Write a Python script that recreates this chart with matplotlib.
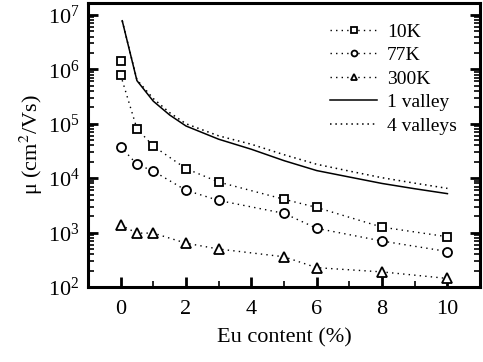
import matplotlib
matplotlib.use('Agg')
import matplotlib.pyplot as plt
from matplotlib.ticker import LogLocator, MultipleLocator, NullFormatter

plt.rcParams['font.family'] = ['Liberation Serif', 'DejaVu Serif']
plt.rcParams['mathtext.fontset'] = 'stix'

# measured mobilities (cm^2/Vs) vs Eu content (%)
eu = [0, 0.5, 1, 2, 3, 5, 6, 8, 10]
mu_10k = [7.9e5, 8.1e4, 3.9e4, 1.5e4, 8.5e3, 4.1e3, 2.9e3, 1.26e3, 8.4e2]
mu_10k_extra_x = [0]
mu_10k_extra = [1.43e6]
mu_77k = [3.8e4, 1.8e4, 1.35e4, 6.0e3, 3.9e3, 2.26e3, 1.2e3, 7.0e2, 4.5e2]
mu_300k = [1.38e3, 9.8e2, 9.8e2, 6.4e2, 5.0e2, 3.6e2, 2.27e2, 1.9e2, 1.44e2]

# calculated curves
calc_x = [0.05, 0.5, 1, 1.5, 2, 3, 4, 5, 6, 7, 8, 9, 10]
one_valley = [7.8e6, 6.2e5, 2.6e5, 1.45e5, 9.1e4, 5.2e4, 3.4e4, 2.1e4, 1.38e4, 1.05e4, 8.0e3, 6.4e3, 5.2e3]
four_valleys = [7.8e6, 6.4e5, 2.9e5, 1.6e5, 1.0e5, 6.0e4, 4.2e4, 2.7e4, 1.8e4, 1.35e4, 1.02e4, 8.1e3, 6.5e3]

fig = plt.figure(figsize=(4.83, 3.62), dpi=100)
ax = fig.add_axes([0.182, 0.207, 0.812, 0.785])

dots = (0, (1, 3))
mk = dict(mfc='white', mec='black', mew=1.3, color='black', lw=1)

ax.plot(eu, mu_10k, marker='s', ms=6, linestyle=dots, label='10K', **mk)
ax.plot(mu_10k_extra_x, mu_10k_extra, marker='s', ms=6, linestyle='none', **mk)
ax.plot(eu, mu_77k, marker='o', ms=6.5, linestyle=dots, label='77K', **mk)
ax.plot(eu, mu_300k, marker='^', ms=7.5, linestyle=dots, label='300K', **mk)
ax.plot(calc_x, one_valley, color='black', lw=1.1, label='1 valley')
ax.plot(calc_x, four_valleys, color='black', lw=1.1, linestyle=(0, (1, 2.5)), label='4 valleys')

ax.set_yscale('log')
ax.set_xlim(-1, 11)
ax.set_ylim(1e2, 10 ** 7.22)
ax.xaxis.set_major_locator(MultipleLocator(2))
ax.xaxis.set_minor_locator(MultipleLocator(1))
ax.yaxis.set_major_locator(LogLocator(base=10, numticks=10))
ax.yaxis.set_minor_locator(LogLocator(base=10, subs=range(2, 10), numticks=20))
ax.yaxis.set_minor_formatter(NullFormatter())

ax.tick_params(which='both', direction='in', top=False, right=True, labelsize=16)
ax.tick_params(which='major', length=7, width=2)
ax.tick_params(which='minor', length=4, width=1.2)
ax.tick_params(axis='x', which='major', pad=9)
ax.tick_params(axis='y', which='major', pad=6)
for s in ax.spines.values():
    s.set_linewidth(2.2)

ax.set_xlabel('Eu content (%)', fontsize=16, labelpad=7)
ax.set_ylabel(r'μ (cm$^2$/Vs)', fontsize=16, labelpad=2)

leg = ax.legend(loc='upper right', frameon=False, fontsize=14, markerscale=0.65,
                handlelength=2.4, handletextpad=0.5, labelspacing=0.3,
                bbox_to_anchor=(0.985, 0.99))

fig.savefig('out.png', dpi=100)
